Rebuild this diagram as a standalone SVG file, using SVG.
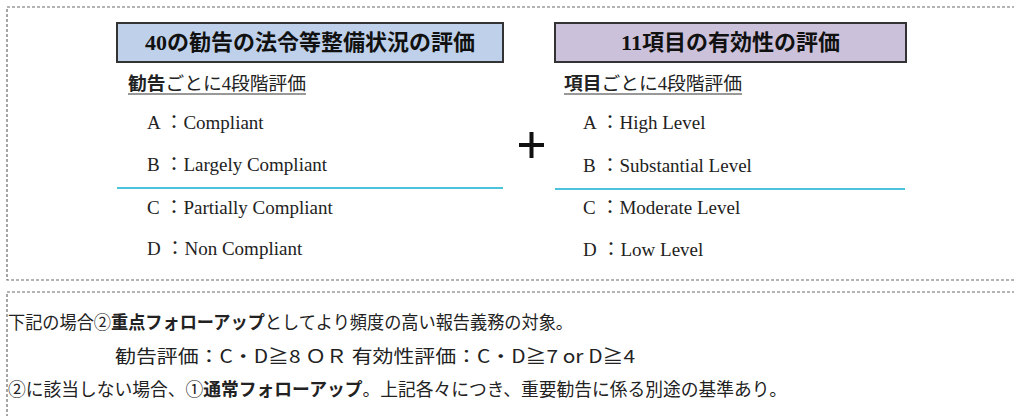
<svg xmlns="http://www.w3.org/2000/svg" width="1014" height="416" viewBox="0 0 1014 416">
<style>
.frame{fill:none;stroke:#6b6b6b;stroke-width:1.2;stroke-dasharray:3 2}
.title{font-family:"Liberation Serif","Noto Sans CJK JP",serif;font-weight:bold;font-size:22px;fill:#111;text-anchor:middle}
.sub{font-family:"Liberation Serif","Noto Sans CJK JP",serif;font-size:18px;fill:#222}
.item{font-family:"Liberation Serif","Noto Sans CJK JP",serif;font-size:19px;fill:#222}
.note{font-family:"Noto Sans CJK JP",sans-serif;font-size:18px;fill:#222}
.b{font-weight:bold}
.cut{stroke:#4cc3dc;stroke-width:2}
.ul{stroke:#333;stroke-width:1}
</style>
<rect fill="#fff" width="1014" height="416"/>
<g id="frame-top"><path class="frame" d="M1020,7 H7 V280 H1020"/></g>
<g id="frame-bottom"><path class="frame" d="M1020,292 H7 V420"/></g>

<g id="compliance">
<rect x="117" y="23" width="386" height="39" fill="#bfd1ea" stroke="#333" stroke-width="2"/>
<text class="title" x="310" y="50">40の勧告の法令等整備状況の評価</text>
<text class="sub" x="128" y="90" textLength="178" lengthAdjust="spacingAndGlyphs"><tspan class="b">勧告</tspan>ごとに4段階評価</text>
<line class="ul" x1="128" y1="94" x2="306" y2="94"/>
<text class="item" x="147" y="129">A ：Compliant</text>
<text class="item" x="147" y="171">B ：Largely Compliant</text>
<line class="cut" x1="117" y1="188" x2="503" y2="188"/>
<text class="item" x="147" y="214">C ：Partially Compliant</text>
<text class="item" x="147" y="255">D ：Non Compliant</text>
</g>

<g id="plus"><path d="M519,145 H544 M531.5,132 V158" stroke="#111" stroke-width="4"/></g>

<g id="effectiveness">
<rect x="555" y="23" width="351" height="39" fill="#ccc1da" stroke="#333" stroke-width="2"/>
<text class="title" x="730.5" y="50">11項目の有効性の評価</text>
<text class="sub" x="564" y="90" textLength="178" lengthAdjust="spacingAndGlyphs"><tspan class="b">項目</tspan>ごとに4段階評価</text>
<line class="ul" x1="564" y1="94" x2="742" y2="94"/>
<text class="item" x="583" y="129">A ：High Level</text>
<text class="item" x="583" y="172">B ：Substantial Level</text>
<line class="cut" x1="555" y1="189" x2="905" y2="189" stroke="#6fc6d4"/>
<text class="item" x="583" y="214">C ：Moderate Level</text>
<text class="item" x="583" y="256">D ：Low Level</text>
</g>

<g id="notes">
<text class="note" x="8" y="329" textLength="565" lengthAdjust="spacingAndGlyphs">下記の場合②<tspan class="b">重点フォローアップ</tspan>としてより頻度の高い報告義務の対象。</text>
<text class="note" x="115" y="363" textLength="520" lengthAdjust="spacingAndGlyphs">勧告評価：C・D≧8 ＯＲ 有効性評価：C・D≧7 or D≧4</text>
<text class="note" x="8" y="396" textLength="779" lengthAdjust="spacingAndGlyphs">②に該当しない場合、①<tspan class="b">通常フォローアップ</tspan>。上記各々につき、重要勧告に係る別途の基準あり。</text>
</g>
</svg>
